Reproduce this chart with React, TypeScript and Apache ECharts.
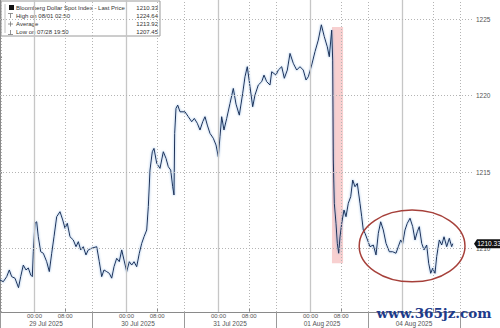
import React, { useEffect, useRef } from "react";
import * as echarts from "echarts";

// Session hours from the start of the 29 Jul block (28 Jul 15:00), weekends compressed
const hours = [
  0, 0.86, 1.75, 2.43, 3.05, 3.91, 4.83, 5.4, 6.08, 6.78, 7.38, 8.01, 8.43, 8.69, 9.13, 9.57, 9.99,
  10.62, 11.3, 12.18, 12.86, 13.49, 14.09, 14.79, 15.65, 16.36, 16.96, 17.56, 18.26, 19.12, 19.83,
  20.43, 21.05, 21.73, 22.43, 23.03, 23.92, 25.23, 25.9, 26.53, 27.13, 27.83, 28.51, 29.14, 29.74,
  30.44, 31.12, 31.75, 32.35, 33.05, 33.73, 34.36, 34.96, 35.66, 36.34, 36.97, 37.57, 38.27, 38.69,
  39.13, 39.73, 40.17, 40.88, 41.74, 42.6, 43.3, 43.9, 44.53, 45.05, 45.39, 45.57, 45.91, 46.36,
  46.96, 48.26, 49.12, 50.01, 50.69, 51.47, 52.17, 52.88, 53.48, 54.08, 54.78, 55.64, 56.35, 56.95,
  57.39, 57.83, 58.43, 59.14, 60.0, 60.86, 61.57, 62.43, 63.31, 63.91, 64.51, 65.22, 65.92, 66.52,
  67.38, 68.27, 68.87, 69.57, 70.43, 70.88, 72.0, 72.6, 73.49, 74.17, 74.95, 75.65, 76.51, 77.4,
  78.26, 79.12, 79.83, 80.43, 81.31, 82.17, 83.03, 83.83, 84.6, 85.38, 85.9, 86.53, 86.79, 86.95,
  87.21, 87.65, 87.99, 88.36, 88.7, 89.14, 89.74, 90.26, 90.86, 91.49, 92.01, 92.61, 93.21, 93.91,
  94.36, 94.77, 95.22, 96.52, 97.38, 98.09, 98.69, 99.31, 99.99, 100.7, 101.56, 102.44, 103.3,
  103.9, 104.53, 105.05, 105.65, 106.25, 106.96, 107.66, 108.26, 108.86, 109.38, 110.01, 110.61,
  111.31, 111.83, 112.36, 112.88, 113.48, 113.92, 114.6, 115.23, 115.83, 116.53, 117.21, 117.83,
  118.1,
];

const prices = [
  1207.95, 1207.84, 1208.17, 1208.61, 1208.17, 1208.07, 1207.45, 1208.17, 1208.93, 1208.61, 1208.74,
  1208.28, 1208.17, 1209.8, 1211.66, 1211.76, 1210.78, 1209.8, 1209.7, 1209.15, 1208.5, 1209.7,
  1210.78, 1212.09, 1212.42, 1211.88, 1211.33, 1211.66, 1210.78, 1210.57, 1210.13, 1210.46, 1209.92,
  1210.13, 1209.59, 1209.92, 1210.03, 1210.13, 1209.15, 1208.17, 1208.61, 1208.5, 1208.39, 1208.07,
  1208.82, 1209.37, 1209.15, 1209.92, 1209.26, 1208.5, 1209.15, 1208.93, 1209.15, 1208.82, 1209.7,
  1210.35, 1210.78, 1211.22, 1212.75, 1215.14, 1216.34, 1216.56, 1215.58, 1215.25, 1216.34, 1215.91,
  1215.36, 1215.14, 1214.05, 1213.51, 1217.54, 1219.18, 1219.39, 1218.95, 1218.95, 1218.63, 1218.3,
  1218.52, 1218.2, 1217.76, 1218.3, 1218.63, 1218.08, 1217.54, 1217.22, 1216.78, 1216.01, 1217.32,
  1218.63, 1217.76, 1218.52, 1219.5, 1220.48, 1219.45, 1218.73, 1220.16, 1221.24, 1221.9, 1220.59,
  1219.28, 1220.05, 1220.7, 1220.92, 1221.35, 1220.92, 1220.7, 1221.57, 1221.35, 1221.68, 1221.9,
  1221.14, 1221.68, 1222.77, 1222.12, 1221.68, 1221.9, 1221.68, 1221.03, 1221.24, 1222.01, 1222.88,
  1223.64, 1224.64, 1223.86, 1223.2, 1222.55, 1224.29, 1222.33, 1215.8, 1212.97, 1211.66, 1210.35,
  1209.7, 1210.78, 1211.66, 1212.53, 1212.09, 1212.97, 1213.4, 1214.49, 1214.05, 1214.27, 1212.97,
  1212.09, 1211.22, 1211.01, 1210.13, 1210.24, 1209.59, 1211.01, 1211.76, 1211.22, 1210.35, 1209.8,
  1209.8, 1209.7, 1210.13, 1210.57, 1210.35, 1211.22, 1211.66, 1211.99, 1211.44, 1210.57, 1211.11,
  1211.44, 1210.35, 1209.92, 1210.24, 1209.05, 1208.39, 1208.72, 1208.39, 1209.48, 1210.57, 1210.24,
  1210.78, 1210.13, 1210.68, 1210.13, 1210.33,
];

const dayLabels = ["29 Jul 2025", "30 Jul 2025", "31 Jul 2025", "01 Aug 2025", "04 Aug 2025"];
const dayStarts = [0, 24, 48, 72, 96, 120];
const labelledDays = [0, 24, 48, 72]; // 04 Aug time labels are hidden under the watermark
const midnightOffset = 9; // 00:00 is 9h into each session block
const morningOffset = 17; // 08:00
const yTicks = [1210, 1215, 1220, 1225];
const yMinorTicks = [1207.5, 1210, 1212.5, 1215, 1217.5, 1220, 1222.5, 1225];

const legendRows = [
  { label: "Bloomberg Dollar Spot Index - Last Price", value: "1210.33" },
  { label: "High on 08/01 02:50", value: "1224.64" },
  { label: "Average", value: "1213.92" },
  { label: "Low on 07/28 19:50", value: "1207.45" },
];

const lastPrice = 1210.33;
const shockStart = 86.6;
const shockEnd = 89.5;
const shockHigh = 1224.5;
const shockLow = 1209.05;
const circleCenter = [107.5, 1210.18];
const circleHalfSpan = [13.8, 2.35];

const X_MAX = 123.39;
const Y_MIN = 1205.86;
const Y_MAX = 1226.26;

export default function App() {
  const ref = useRef<HTMLDivElement>(null);

  useEffect(() => {
    if (!ref.current) return;
    const chart = echarts.init(ref.current, null, { renderer: "svg" });

    const dotted = { type: [1, 2], color: "#b4b4b4", width: 1 };
    const vLines: any[] = [{ xAxis: 0.2, lineStyle: dotted }];
    dayStarts.forEach((d) => {
      if (d > 0 && d <= X_MAX) vLines.push({ xAxis: d, lineStyle: dotted });
      if (d + midnightOffset <= X_MAX)
        vLines.push({ xAxis: d + midnightOffset, lineStyle: { type: "solid", color: "#c6c6c6", width: 1.3 } });
      if (d + morningOffset <= X_MAX) vLines.push({ xAxis: d + morningOffset, lineStyle: dotted });
    });
    const hLines = yTicks.map((v) => ({ yAxis: v, lineStyle: dotted }));

    const tickVals: number[] = [];
    dayStarts.forEach((d) => {
      if (d + midnightOffset <= X_MAX) tickVals.push(d + midnightOffset);
      if (d + morningOffset <= X_MAX) tickVals.push(d + morningOffset);
    });
    const timeLabelVals: number[] = [];
    labelledDays.forEach((d) => {
      timeLabelVals.push(d + midnightOffset, d + morningOffset);
    });
    const dayCenters = dayLabels.map((_, i) => dayStarts[i] + 12);

    const option: any = {
      animation: false,
      backgroundColor: "#ffffff",
      grid: { left: 0, right: 27, top: 0, bottom: 16 },
      xAxis: [
        {
          type: "value",
          min: 0,
          max: X_MAX,
          position: "bottom",
          axisLine: { show: true, lineStyle: { color: "#8a8a8a", width: 1 } },
          axisTick: {
            show: true,
            inside: true,
            length: 3,
            customValues: tickVals,
            lineStyle: { color: "#8a8a8a" },
          },
          axisLabel: {
            customValues: timeLabelVals,
            formatter: (v: number) => (Math.round(v) % 24 === midnightOffset ? "00:00" : "08:00"),
            fontSize: 6,
            color: "#555",
            margin: 1,
            fontFamily: "Liberation Sans",
          },
          splitLine: { show: false },
        },
        {
          type: "value",
          min: 0,
          max: X_MAX,
          position: "bottom",
          axisLine: { show: false },
          axisTick: {
            show: true,
            inside: false,
            length: 16,
            customValues: dayStarts.filter((d) => d <= X_MAX),
            lineStyle: { color: "#9a9a9a" },
          },
          axisLabel: {
            customValues: dayCenters,
            formatter: (v: number) => dayLabels[Math.round((v - 12) / 24)] || "",
            fontSize: 6.5,
            color: "#555",
            margin: 8,
            fontFamily: "Liberation Sans",
          },
          splitLine: { show: false },
        },
      ],
      yAxis: {
        type: "value",
        position: "right",
        min: Y_MIN,
        max: Y_MAX,
        axisLine: { show: true, lineStyle: { color: "#8a8a8a", width: 1 } },
        axisTick: { show: true, inside: false, length: 2, customValues: yMinorTicks, lineStyle: { color: "#8a8a8a" } },
        axisLabel: {
          customValues: yTicks,
          formatter: (v: number) => String(v),
          fontSize: 6.5,
          color: "#555",
          margin: 3,
          fontFamily: "Liberation Sans",
        },
        splitLine: { show: false },
      },
      series: [
        {
          type: "line",
          data: [],
          z: 1,
          silent: true,
          markLine: {
            silent: true,
            symbol: ["none", "none"],
            label: { show: false },
            data: [...vLines, ...hLines],
          },
          markArea: {
            silent: true,
            itemStyle: { color: "rgba(240,150,150,0.45)" },
            data: [[{ coord: [shockStart, shockHigh] }, { coord: [shockEnd, shockLow] }]],
          },
        },
        {
          type: "line",
          z: 3,
          data: hours.map((h, i) => [h, prices[i]]),
          showSymbol: false,
          symbol: "none",
          lineStyle: {
            color: "#1f3157",
            width: 1,
            shadowColor: "rgba(80,140,210,0.7)",
            shadowBlur: 2,
          },
          silent: true,
        },
      ],
    };
    chart.setOption(option);

    const toPx = (p: number[]) => chart.convertToPixel({ xAxisIndex: 0, yAxisIndex: 0 }, p) as number[];
    const tag = toPx([X_MAX, lastPrice]);
    const cc = toPx(circleCenter);
    const ce = toPx([circleCenter[0] + circleHalfSpan[0], circleCenter[1] + circleHalfSpan[1]]);

    const iconStroke = { stroke: "#777", lineWidth: 0.8 };
    const legendChildren: any[] = [
      {
        type: "rect",
        shape: { x: 1, y: 1, width: 159, height: 35 },
        style: { fill: "#ffffff", stroke: "#9a9a9a", lineWidth: 1 },
      },
      { type: "line", shape: { x1: 5, y1: 4, x2: 5, y2: 33 }, style: { stroke: "#b0b0b0", lineWidth: 0.8 } },
      { type: "rect", shape: { x: 9, y: 5, width: 5, height: 5 }, style: { fill: "#111" } },
      { type: "line", shape: { x1: 8, y1: 13.5, x2: 13, y2: 13.5 }, style: iconStroke },
      { type: "line", shape: { x1: 10.5, y1: 13.5, x2: 10.5, y2: 18 }, style: iconStroke },
      { type: "line", shape: { x1: 8, y1: 24, x2: 13, y2: 24 }, style: iconStroke },
      { type: "line", shape: { x1: 10.5, y1: 21.5, x2: 10.5, y2: 26.5 }, style: iconStroke },
      { type: "line", shape: { x1: 8, y1: 34.5, x2: 13, y2: 34.5 }, style: iconStroke },
      { type: "line", shape: { x1: 10.5, y1: 30, x2: 10.5, y2: 34.5 }, style: iconStroke },
    ];
    legendRows.forEach((r, i) => {
      const cy = 7.5 + i * 8.3;
      legendChildren.push({
        type: "text",
        x: 16,
        y: cy,
        style: {
          text: r.label,
          fill: "#333",
          fontSize: 6,
          fontFamily: "Liberation Sans",
          verticalAlign: "middle",
          align: "left",
        },
      });
      legendChildren.push({
        type: "text",
        x: 158,
        y: cy,
        style: {
          text: r.value,
          fill: "#333",
          fontSize: 6,
          fontFamily: "Liberation Sans",
          verticalAlign: "middle",
          align: "right",
        },
      });
    });

    chart.setOption({
      graphic: [
        {
          type: "ellipse",
          shape: { cx: cc[0], cy: cc[1], rx: Math.abs(ce[0] - cc[0]), ry: Math.abs(cc[1] - ce[1]) },
          style: { fill: "none", stroke: "#a6403a", lineWidth: 1.5 },
          z: 10,
        },
        {
          type: "polygon",
          shape: {
            points: [
              [tag[0] + 1, tag[1]],
              [tag[0] + 4, tag[1] - 4.5],
              [tag[0] + 27, tag[1] - 4.5],
              [tag[0] + 27, tag[1] + 4.5],
              [tag[0] + 4, tag[1] + 4.5],
            ],
          },
          style: { fill: "#111111" },
          z: 11,
        },
        {
          type: "text",
          x: tag[0] + 16,
          y: tag[1],
          style: {
            text: String(lastPrice),
            fill: "#ffffff",
            fontSize: 6.5,
            fontFamily: "Liberation Sans",
            align: "center",
            verticalAlign: "middle",
          },
          z: 12,
        },
        { type: "group", children: legendChildren, z: 20 },
        {
          type: "text",
          x: 434,
          y: 313,
          style: {
            text: "www.365jz.com",
            fill: "#1d3b8a",
            fontSize: 13.5,
            fontWeight: "bold",
            fontFamily: "DejaVu Serif",
            align: "center",
            verticalAlign: "middle",
          },
          z: 30,
        },
      ],
    });

    return () => chart.dispose();
  }, []);

  return (
    <div
      ref={ref}
      style={{ position: "absolute", left: 0, top: 0, width: 500, height: 328, background: "#fff" }}
    />
  );
}
